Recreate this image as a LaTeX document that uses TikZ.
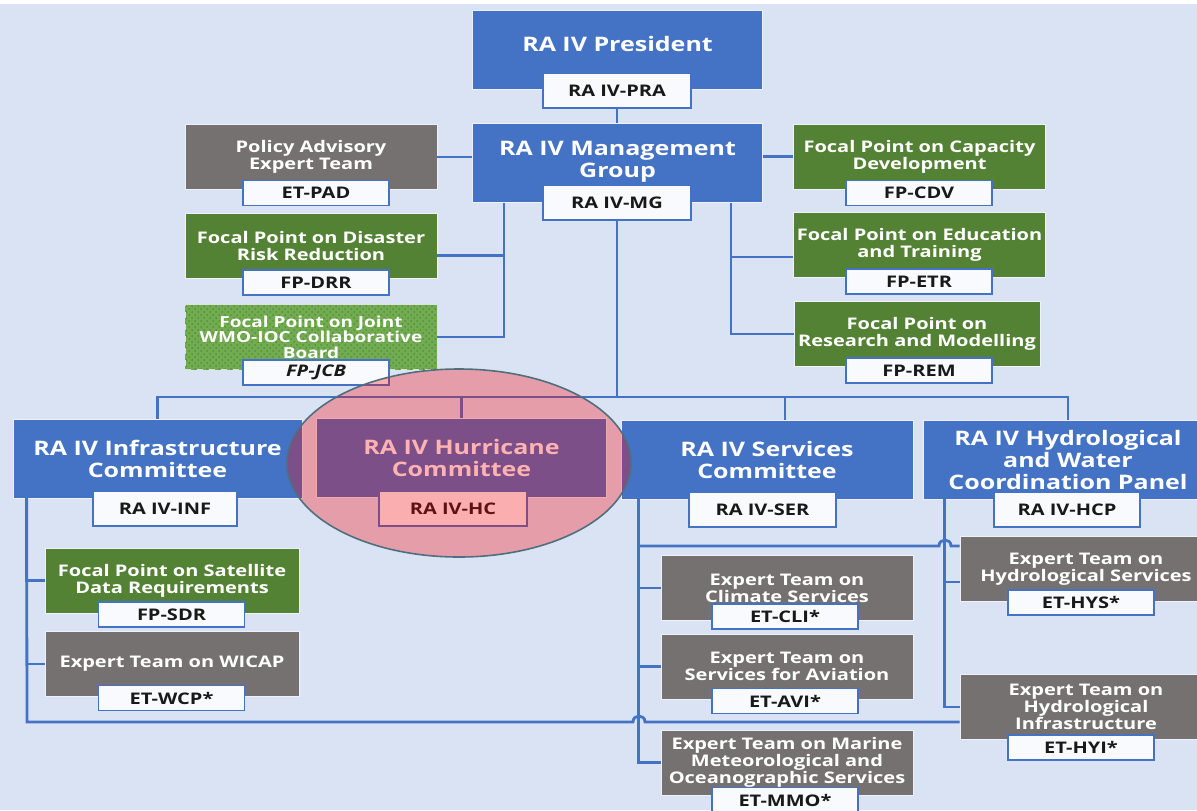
\documentclass[tikz,border=0pt]{standalone}
\usepackage{fontspec}
\setmainfont{Open Sans}[FakeStretch=1.25]
\usetikzlibrary{patterns}
\definecolor{bgcol}{HTML}{DAE3F3}
\definecolor{rablue}{HTML}{4472C4}
\definecolor{fpgreen}{HTML}{548235}
\definecolor{jcbgreen}{HTML}{72AC50}
\definecolor{jcbdots}{HTML}{5A8E3C}
\definecolor{etgray}{HTML}{767171}
\definecolor{codefill}{HTML}{F8FAFD}
\definecolor{linkblue}{HTML}{4472C4}
\definecolor{ringedge}{HTML}{4F6F7F}
\definecolor{boxedge}{HTML}{EEF2F8}
\tikzset{
unit/.style={rectangle,draw=boxedge,line width=0.4pt,text=white,align=center,inner sep=0pt},
bigbox/.style={unit,fill=rablue,minimum width=145pt,minimum height=39.5pt,font=\fontsize{10}{11}\selectfont\bfseries},
smallbox/.style={unit,minimum width=126pt,minimum height=32.5pt,font=\fontsize{8}{8.5}\selectfont\bfseries},
fpbox/.style={smallbox,fill=fpgreen},
etbox/.style={smallbox,fill=etgray},
jcbbox/.style={smallbox,draw=white!70!jcbgreen,dashed,preaction={fill=jcbgreen},pattern=crosshatch dots,pattern color=jcbdots,font=\fontsize{7.6}{7.8}\selectfont\bfseries},
codebox/.style={rectangle,draw=linkblue,line width=0.6pt,fill=codefill,text=black!90,minimum width=73pt,minimum height=12.5pt,inner sep=0pt,font=\fontsize{8}{9}\selectfont\bfseries},
bigcode/.style={codebox,minimum width=74pt,minimum height=17.5pt},
link/.style={draw=linkblue,line width=1.4pt}
}
\begin{document}
\begin{tikzpicture}[x=0.5pt,y=-0.5pt]
\useasboundingbox (0,0) rectangle (1197,810);
\clip (0,0) rectangle (1197,810);
\fill[white] (0,0) rectangle (1197,810);
\fill[bgcol] (0,4) rectangle (1197,810);
\node[bigbox,text depth=6pt] (pra) at (617.5,50) {RA IV President};
\node[bigcode] (pracode) at (617,90.5) {RA IV-PRA};
\node[bigbox,text depth=4pt] (mg) at (617.5,163) {RA IV Management\\Group};
\node[bigcode] (mgcode) at (617,202.5) {RA IV-MG};
\node[etbox] (pad) at (311,157) {Policy Advisory\\Expert Team};
\node[codebox] (padcode) at (316,193) {ET-PAD};
\node[fpbox] (drr) at (311,245.5) {Focal Point on Disaster\\Risk Reduction};
\node[codebox] (drrcode) at (316,282.5) {FP-DRR};
\node[jcbbox] (jcb) at (311,337) {Focal Point on Joint\\WMO-IOC Collaborative\\Board};
\node[codebox] (jcbcode) at (316,372.5) {\itshape FP-JCB};
\node[fpbox] (cdv) at (919.5,156.5) {Focal Point on Capacity\\Development};
\node[codebox] (cdvcode) at (919,193) {FP-CDV};
\node[fpbox] (etr) at (919.5,245) {Focal Point on Education\\and Training};
\node[codebox] (etrcode) at (919,281.5) {FP-ETR};
\node[fpbox,minimum width=123pt] (rem) at (917,334) {Focal Point on\\Research and Modelling};
\node[codebox] (remcode) at (919,370.5) {FP-REM};
\node[bigbox,minimum width=144.5pt] (inf) at (157.5,458.5) {RA IV Infrastructure\\Committee};
\node[bigcode,minimum width=72pt] (infcode) at (165,508.5) {RA IV-INF};
\node[bigbox] (hc) at (461.5,458) {RA IV Hurricane\\Committee};
\node[bigcode] (hccode) at (453,508.5) {RA IV-HC};
\node[bigbox,minimum width=146pt] (ser) at (767,459.5) {RA IV Services\\Committee};
\node[bigcode,minimum width=73.5pt] (sercode) at (762.5,509.5) {RA IV-SER};
\node[bigbox] (hcp) at (1068,459.5) {RA IV Hydrological\\and Water\\Coordination Panel};
\node[bigcode,minimum width=73pt] (hcpcode) at (1067,509.5) {RA IV-HCP};
\node[fpbox,minimum width=127pt] (sdr) at (172,580.5) {Focal Point on Satellite\\Data Requirements};
\node[codebox] (sdrcode) at (171.5,614.5) {FP-SDR};
\node[etbox,minimum width=127pt] (wcp) at (172,664) {Expert Team on WICAP};
\node[codebox] (wcpcode) at (171.5,698) {ET-WCP*};
\node[etbox] (cli) at (787,588) {Expert Team on\\Climate Services};
\node[codebox] (clicode) at (785,616.5) {ET-CLI*};
\node[etbox] (avi) at (787,666.5) {Expert Team on\\Services for Aviation};
\node[codebox] (avicode) at (785,701) {ET-AVI*};
\node[etbox] (mmo) at (787,762.5) {Expert Team on Marine\\Meteorological and\\Oceanographic Services};
\node[codebox] (mmocode) at (785,800) {ET-MMO*};
\node[etbox] (hys) at (1086,569) {Expert Team on\\Hydrological Services};
\node[codebox] (hyscode) at (1081,602.5) {ET-HYS*};
\node[etbox] (hyi) at (1086,707) {Expert Team on\\Hydrological\\Infrastructure};
\node[codebox] (hyicode) at (1081,747.5) {ET-HYI*};
\coordinate (lv) at (504,203);
\coordinate (rv) at (731,203);
\coordinate (bus) at (617,397);
\coordinate (drrin) at ([yshift=-5pt]drr.east);
\coordinate (etrin) at ([yshift=-6pt]etr.west);
\coordinate (serin) at ([xshift=9pt]ser.north);
\coordinate (iv) at ([xshift=7pt]inf.south west);
\coordinate (iend) at (27,722);
\coordinate (sv) at ([xshift=9pt]ser.south west);
\coordinate (sbr) at (639,546);
\coordinate (hv) at ([xshift=11pt]hcp.south west);
\coordinate (hysin) at ([yshift=-6.5pt]hys.west);
\path[link] (pracode.south) -- (pracode.south |- mg.north);
\path[link] (pad.east) -- (pad.east -| mg.west);
\path[link] (cdv.west -| mg.east) -- (cdv.west);
\path[link] (lv) |- (jcb.east);
\path[link] (drrin) -- (drrin -| lv);
\path[link] (rv) |- (rem.west);
\path[link] (etrin -| rv) -- (etrin);
\path[link] (mgcode.south) -- (mgcode.south |- bus);
\path[link] (inf.north) |- (bus) -| (hcp.north);
\path[link] (hc.north) -- (hc.north |- bus);
\path[link] (serin) -- (serin |- bus);
\path[link] (iv) |- (sdr.west);
\path[link] (iv |- wcp.west) -- (wcp.west);
\path[link] (iv) -- (iend) -- ++(606,0) .. controls +(0,-8) and +(0,-8) .. ++(12,0) -- (hyi.west |- iend);
\path[link] (sv) |- (mmo.west);
\path[link] (sv |- cli.west) -- (cli.west);
\path[link] (sv |- avi.west) -- (avi.west);
\path[link] (sbr) -- ++(300,0) .. controls +(0,-8) and +(0,-8) .. ++(12,0) -- (hys.west |- sbr);
\path[link] (hv) |- (hyi.west);
\path[link] (hv |- hysin) -- (hysin);
\path[draw=ringedge,line width=0.8pt,fill=red,fill opacity=0.3] (459,463) ellipse [x radius=86pt,y radius=47pt];
\end{tikzpicture}
\end{document}
